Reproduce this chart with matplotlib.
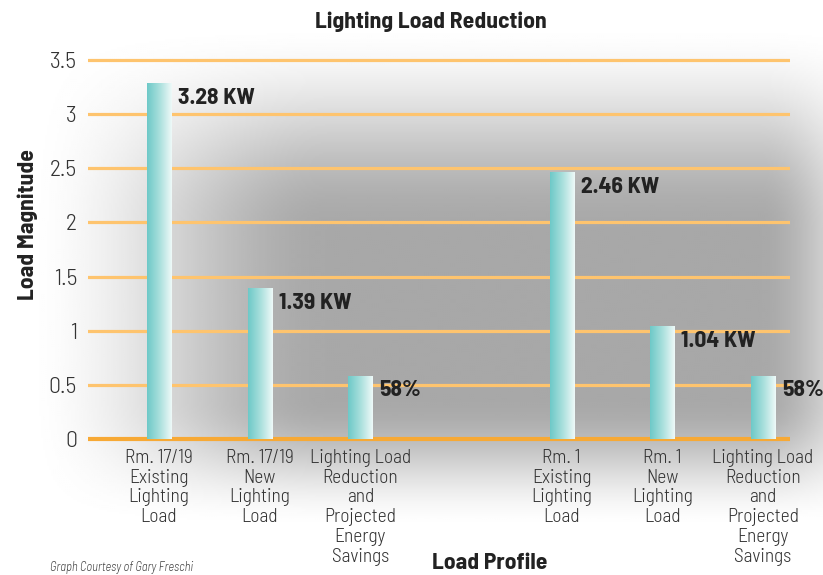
import matplotlib
matplotlib.use('Agg')
import matplotlib.pyplot as plt
from matplotlib.colors import LinearSegmentedColormap
import numpy as np

# chart data
categories = ['Rm. 17/19\nExisting\nLighting\nLoad',
              'Rm. 17/19\nNew\nLighting\nLoad',
              'Lighting Load\nReduction\nand\nProjected\nEnergy\nSavings',
              'Rm. 1\nExisting\nLighting\nLoad',
              'Rm. 1\nNew\nLighting\nLoad',
              'Lighting Load\nReduction\nand\nProjected\nEnergy\nSavings']
positions = [0, 1, 2, 4, 5, 6]
loads = [3.28, 1.39, 0.58, 2.46, 1.04, 0.58]
value_labels = ['3.28 KW', '1.39 KW', '58%', '2.46 KW', '1.04 KW', '58%']
yticks = [0, 0.5, 1, 1.5, 2, 2.5, 3, 3.5]
ytick_labels = ['0', '0.5', '1', '1.5', '2', '2.5', '3', '3.5']

plt.rcParams['font.family'] = ['Barlow Semi Condensed', 'DejaVu Sans']

fig = plt.figure(figsize=(8.23, 5.75), dpi=100)

# soft grey shadow background
bg = fig.add_axes([0, 0, 1, 1], zorder=0)
bg.set_axis_off()
xs = np.linspace(0, 823, 412)
ys = np.linspace(0, 575, 288)
X, Y = np.meshgrid(xs, ys)


def ramp(v, a, b):
    t = np.clip((v - a) / (b - a), 0, 1)
    return t * t * (3 - 2 * t)


fx = ramp(X, 20, 330) * (1 - ramp(X, 760, 900))
fy = ramp(Y, 20, 230) * (1 - ramp(Y, 400, 530))
shade = 1 - 0.34 * fx * fy
bg.imshow(shade, cmap='gray', vmin=0, vmax=1, extent=[0, 823, 575, 0],
          aspect='auto', interpolation='bilinear')
bg.set_xlim(0, 823)
bg.set_ylim(575, 0)

ax = fig.add_axes([0.107, 0.231, 0.853, 0.674], zorder=1)
ax.patch.set_alpha(0)
ax.set_xlim(-0.705, 6.27)
ax.set_ylim(-0.03, 3.55)
for s in ax.spines.values():
    s.set_visible(False)

for y in yticks[1:]:
    ax.axhline(y, color='#fec46e', lw=2.3, zorder=1)
ax.axhline(0, color='#f7a935', lw=3.0, zorder=1)

# bars with teal-to-white gradient
width = 0.24
grad = np.linspace(0, 1, 64).reshape(1, -1)
teal = LinearSegmentedColormap.from_list('teal', ['#6ec9c8', '#a8dfdc', '#eef9f8'])
bars = ax.bar(positions, loads, width=width, color='none', zorder=2)
for b in bars:
    x0, h = b.get_x(), b.get_height()
    ax.imshow(grad, cmap=teal, extent=[x0, x0 + width, 0, h], aspect='auto',
              zorder=2, interpolation='bilinear')

for p, v, lab in zip(positions, loads, value_labels):
    ax.annotate(lab, (p + width / 2, v), xytext=(5, -3), textcoords='offset points',
                ha='left', va='top', fontsize=17, fontweight='bold', color='#222222')

ax.set_xticks(positions)
ax.set_xticklabels(categories, fontsize=14, fontweight=300, color='#333333',
                   linespacing=1.12)
ax.set_yticks(yticks)
ax.set_yticklabels(ytick_labels, fontsize=17, fontweight=300, color='#333333')
ax.tick_params(length=0, pad=8)
ax.tick_params(axis='x', pad=5)

fig.text(0.523, 0.962, 'Lighting Load Reduction', ha='center', va='center',
         fontsize=17, fontweight='bold', color='#222222')
fig.text(0.034, 0.61, 'Load Magnitude', ha='center', va='center', rotation=90,
         fontsize=17, fontweight='bold', color='#222222')
fig.text(0.595, 0.021, 'Load Profile', ha='center', va='center',
         fontsize=17, fontweight='bold', color='#222222')
fig.text(0.061, 0.002, 'Graph Courtesy of Gary Freschi', ha='left', va='bottom',
         fontsize=9, style='italic', fontweight=300, color='#444444')

fig.savefig('out.png', dpi=100)
